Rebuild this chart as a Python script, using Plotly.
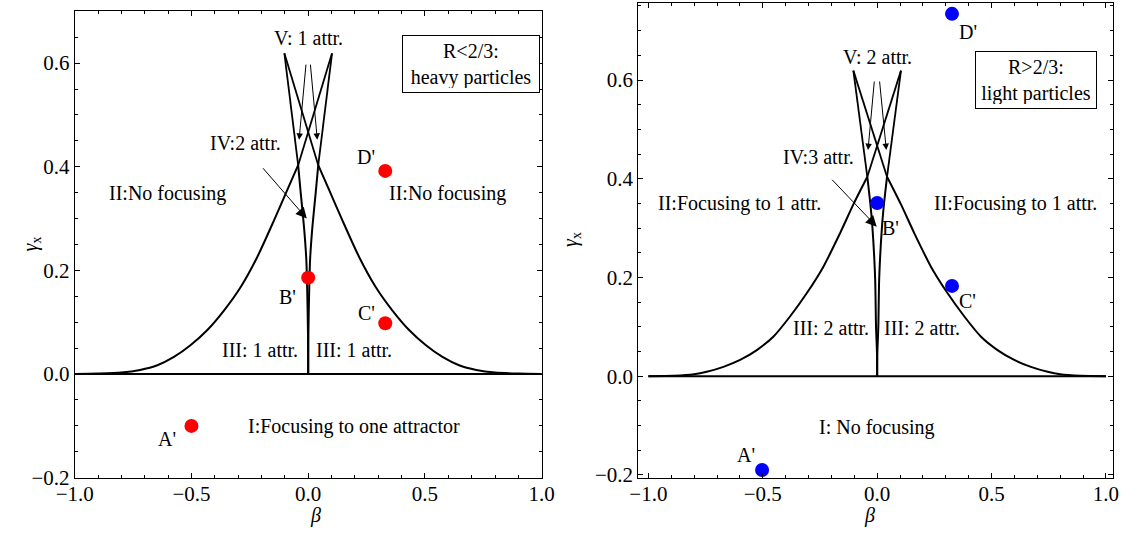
import plotly.graph_objects as go

# ---------------- data ----------------
# left panel (R<2/3): outer boundary curve, left branch
L_outer_beta = [-1.0, -0.9, -0.8, -0.72, -0.646, -0.575, -0.503, -0.432, -0.36, -0.289, -0.218, -0.146, -0.09, -0.043]
L_outer_gamma = [0.0, 0.001, 0.003, 0.008, 0.017, 0.033, 0.056, 0.085, 0.123, 0.168, 0.226, 0.297, 0.355, 0.403]
# right panel (R>2/3): outer boundary curve, left branch
R_outer_beta = [-1.0, -0.89, -0.80, -0.745, -0.672, -0.599, -0.526, -0.454, -0.381, -0.308, -0.235, -0.162, -0.104, -0.043]
R_outer_gamma = [0.0, 0.001, 0.004, 0.009, 0.019, 0.033, 0.053, 0.080, 0.121, 0.168, 0.222, 0.290, 0.348, 0.404]
# inner cusp curve (left branch), from the peak down to the origin
L_inner_beta = [-0.043, -0.032, -0.018, -0.008, -0.004, -0.001, 0.0]
L_inner_gamma = [0.403, 0.349, 0.284, 0.220, 0.156, 0.080, 0.0]
R_inner_beta = [-0.043, -0.030, -0.021, -0.009, -0.005, -0.001, 0.0]
R_inner_gamma = [0.404, 0.350, 0.303, 0.200, 0.100, 0.050, 0.0]
# upper crossing lines: top ends and peak points (beta, gamma)
L_top = (0.102, 0.619)
L_peak = (0.043, 0.403)
R_top = (0.104, 0.619)
R_peak = (0.043, 0.404)
# parameter points
point_names = ["A'", "B'", "C'", "D'"]
L_pts_beta = [-0.5, 0.0, 0.33, 0.33]
L_pts_gamma = [-0.10, 0.186, 0.098, 0.392]
R_pts_beta = [-0.503, 0.0, 0.327, 0.327]
R_pts_gamma = [-0.19, 0.351, 0.183, 0.734]

FONT = "Liberation Serif"
FS = 20
TFS = 21
BLACK = "black"

fig = go.Figure()


def add_panel(xa, ya, ob, og, ib, ig, top, peak, pb, pg, color):
    lw = 2
    sm = 0.7
    # outer curves
    fig.add_trace(go.Scatter(x=ob, y=og, mode="lines",
                             line=dict(color=BLACK, width=lw, shape="spline", smoothing=sm),
                             xaxis=xa, yaxis=ya, hoverinfo="skip"))
    fig.add_trace(go.Scatter(x=[-b for b in ob], y=og, mode="lines",
                             line=dict(color=BLACK, width=lw, shape="spline", smoothing=sm),
                             xaxis=xa, yaxis=ya, hoverinfo="skip"))
    # inner cusp curves
    fig.add_trace(go.Scatter(x=ib, y=ig, mode="lines",
                             line=dict(color=BLACK, width=lw, shape="spline", smoothing=sm),
                             xaxis=xa, yaxis=ya, hoverinfo="skip"))
    fig.add_trace(go.Scatter(x=[-b for b in ib], y=ig, mode="lines",
                             line=dict(color=BLACK, width=lw, shape="spline", smoothing=sm),
                             xaxis=xa, yaxis=ya, hoverinfo="skip"))
    # zero line
    fig.add_trace(go.Scatter(x=[-1, 1], y=[0, 0], mode="lines", line=dict(color=BLACK, width=lw),
                             xaxis=xa, yaxis=ya, hoverinfo="skip"))
    # upper crossing lines
    tb, tg = top
    pkb, pkg = peak
    xs = [-tb, -pkb, None, -tb, pkb, None, tb, pkb, None, tb, -pkb]
    ys = [tg, pkg, None, tg, pkg, None, tg, pkg, None, tg, pkg]
    fig.add_trace(go.Scatter(x=xs, y=ys, mode="lines", line=dict(color=BLACK, width=1.8),
                             xaxis=xa, yaxis=ya, hoverinfo="skip", connectgaps=False))
    # points
    fig.add_trace(go.Scatter(x=pb, y=pg, mode="markers", marker=dict(color=color, size=14),
                             xaxis=xa, yaxis=ya, hoverinfo="skip"))


add_panel("x", "y", L_outer_beta, L_outer_gamma, L_inner_beta, L_inner_gamma, L_top, L_peak,
          L_pts_beta, L_pts_gamma, "#ff0000")
add_panel("x2", "y2", R_outer_beta, R_outer_gamma, R_inner_beta, R_inner_gamma, R_top, R_peak,
          R_pts_beta, R_pts_gamma, "#0000ff")

ann = []


def text(xr, yr, x, y, t, **kw):
    d = dict(x=x, y=y, xref=xr, yref=yr, text=t, showarrow=False,
             font=dict(family=FONT, size=FS, color=BLACK))
    d.update(kw)
    ann.append(d)


def arrow(xr, yr, x0, y0, x1, y1, size):
    ann.append(dict(x=x1, y=y1, ax=x0, ay=y0, xref=xr, yref=yr, axref=xr, ayref=yr,
                    showarrow=True, arrowhead=2, arrowsize=size, arrowwidth=1, arrowcolor=BLACK,
                    text=""))


# left panel labels
text("x", "y", 0.0, 0.648, "V: 1 attr.")
text("x", "y", -0.108, 0.446, "IV:2 attr.", xanchor="right")
text("x", "y", -0.602, 0.349, "II:No focusing")
text("x", "y", 0.597, 0.349, "II:No focusing")
text("x", "y", -0.206, 0.046, "III: 1 attr.")
text("x", "y", 0.197, 0.046, "III: 1 attr.")
text("x", "y", 0.197, -0.102, "I:Focusing to one attractor")
text("x", "y", 0.697, 0.599, "R&lt;2/3:<br>heavy particles", bordercolor=BLACK, borderwidth=1,
     borderpad=4, width=128, height=48, bgcolor="white")
L_shift = [(-24, -13), (-21, -19), (-19, 10), (-19, 14)]
for nm, b, g, (sx, sy) in zip(point_names, L_pts_beta, L_pts_gamma, L_shift):
    text("x", "y", b, g, nm, xshift=sx, yshift=sy)
arrow("x", "y", -0.009, 0.600, -0.039, 0.452, 1.3)
arrow("x", "y", 0.009, 0.600, 0.039, 0.452, 1.3)
arrow("x", "y", -0.199, 0.400, -0.006, 0.300, 2.2)

# right panel labels
text("x2", "y2", 0.0, 0.647, "V: 2 attr.")
text("x2", "y2", -0.255, 0.445, "IV:3 attr.")
text("x2", "y2", -0.600, 0.350, "II:Focusing to 1 attr.")
text("x2", "y2", 0.603, 0.350, "II:Focusing to 1 attr.")
text("x2", "y2", -0.204, 0.097, "III: 2 attr.")
text("x2", "y2", 0.196, 0.097, "III: 2 attr.")
text("x2", "y2", 0.0, -0.103, "I: No focusing")
text("x2", "y2", 0.694, 0.600, "R&gt;2/3:<br>light particles", bordercolor=BLACK, borderwidth=1,
     borderpad=4, width=112, height=48, bgcolor="white")
R_shift = [(-16, 15), (13, -25), (16, -15), (16, -18)]
for nm, b, g, (sx, sy) in zip(point_names, R_pts_beta, R_pts_gamma, R_shift):
    text("x2", "y2", b, g, nm, xshift=sx, yshift=sy)
arrow("x2", "y2", -0.012, 0.600, -0.040, 0.458, 1.3)
arrow("x2", "y2", 0.010, 0.600, 0.040, 0.458, 1.3)
arrow("x2", "y2", -0.203, 0.401, -0.002, 0.303, 2.2)

# axis titles
W, H = 1121, 539
for px, py, t, ang in [(16, 244, "<i>γ</i><sub>x</sub>", -90), (308, 529, "<i>β</i>", 0),
                       (571, 240, "<i>γ</i><sub>x</sub>", -90), (877, 529, "<i>β</i>", 0)]:
    ann.append(dict(x=px / W, y=1 - py / H, xref="paper", yref="paper", text=t, showarrow=False,
                    textangle=ang, font=dict(family=FONT, size=FS, color=BLACK)))


def xaxis(dom, rng, anchor):
    return dict(domain=dom, range=rng, anchor=anchor, showline=True, linecolor=BLACK, linewidth=1,
                mirror="allticks", ticks="inside", ticklen=5, tickcolor=BLACK, tickwidth=1,
                tick0=0, dtick=0.5, tickformat=".1f", automargin=False, ticklabelstandoff=-3,
                minor=dict(dtick=0.1, tick0=0, ticks="inside", ticklen=3, tickcolor=BLACK),
                showgrid=False, zeroline=False, fixedrange=True,
                tickfont=dict(family=FONT, size=TFS, color=BLACK))


def yaxis(dom, rng, anchor):
    return dict(domain=dom, range=rng, anchor=anchor, showline=True, linecolor=BLACK, linewidth=1,
                mirror="allticks", ticks="inside", ticklen=5, tickcolor=BLACK, tickwidth=1,
                tick0=0, dtick=0.2, tickformat=".1f", automargin=False,
                minor=dict(dtick=0.05, tick0=0, ticks="inside", ticklen=3, tickcolor=BLACK),
                showgrid=False, zeroline=False, fixedrange=True,
                tickfont=dict(family=FONT, size=TFS, color=BLACK))


fig.update_layout(
    width=W, height=H, margin=dict(l=0, r=0, t=0, b=0, autoexpand=False),
    paper_bgcolor="white", plot_bgcolor="white", showlegend=False,
    xaxis=xaxis([74.7 / W, 541.7 / W], [-1.0, 1.0], "y"),
    yaxis=yaxis([1 - 477.7 / H, 1 - 11.3 / H], [-0.2, 0.7], "x"),
    xaxis2=xaxis([638.3 / W, 1113.3 / W], [-1.044, 1.032], "y2"),
    yaxis2=yaxis([1 - 477.7 / H, 1 - 2.7 / H], [-0.2055, 0.7566], "x2"),
    annotations=ann,
)

fig.write_html("out.html")
